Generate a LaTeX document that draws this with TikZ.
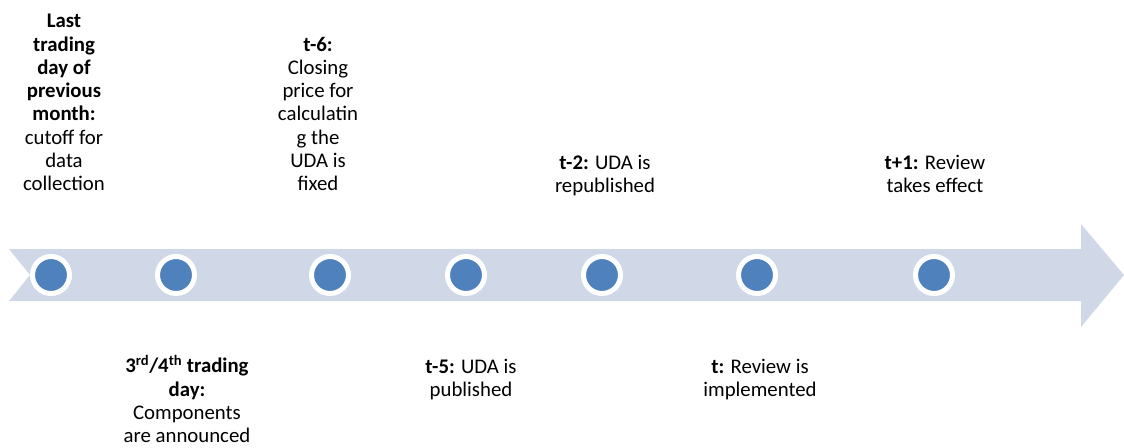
\documentclass[tikz,border=0pt]{standalone}
\usepackage{fontspec}
\setmainfont{Carlito}
\definecolor{bandcol}{HTML}{D0D8E8}
\definecolor{dotcol}{HTML}{4F81BD}
\begin{document}
\begin{tikzpicture}[x=1pt,y=-1pt,
  dot/.style={circle,fill=dotcol,draw=white,line width=5pt,minimum size=37pt,inner sep=0pt},
  lbl/.style={align=center,inner sep=0pt,font=\fontsize{20.8}{23.3}\selectfont},
  toplbl/.style={lbl,anchor=south},
  botlbl/.style={lbl,anchor=north}]
\useasboundingbox (0,0) rectangle (1124,447);
\fill[bandcol] (9,249) -- (1081,249) -- (1081,224) -- (1124,275) -- (1081,327) -- (1081,301) -- (9,301) -- (30,275) -- cycle;
\foreach \x/\n in {51/c1,176/c2,330/c3,466/c4,602/c5,757/c6,934/c7}
  \node[dot] (\n) at (\x,275) {};
\node[toplbl] (l1) at (64,198) {\strut\textbf{Last}\\\textbf{trading}\\\textbf{day of}\\\textbf{previous}\\\textbf{month:}\\cutoff for\\data\\collection\strut};
\node[toplbl] (l3) at (318,198) {\strut\textbf{t-6:}\\Closing\\price for\\calculatin\\g the\\UDA is\\fixed\strut};
\node[toplbl] (l5) at (605,200) {\strut\textbf{t-2:} UDA is\\republished\strut};
\node[toplbl] (l7) at (935,200) {\strut\textbf{t+1:} Review\\takes effect\strut};
\node[botlbl] (l2) at (187,355) {\strut\textbf{3\textsuperscript{rd}/4\textsuperscript{th} trading}\\\textbf{day:}\\Components\\are announced};
\node[botlbl] (l4) at (471,357) {\strut\textbf{t-5:} UDA is\\published};
\node[botlbl] (l6) at (760,357) {\strut\textbf{t:} Review is\\implemented};
\end{tikzpicture}
\end{document}
